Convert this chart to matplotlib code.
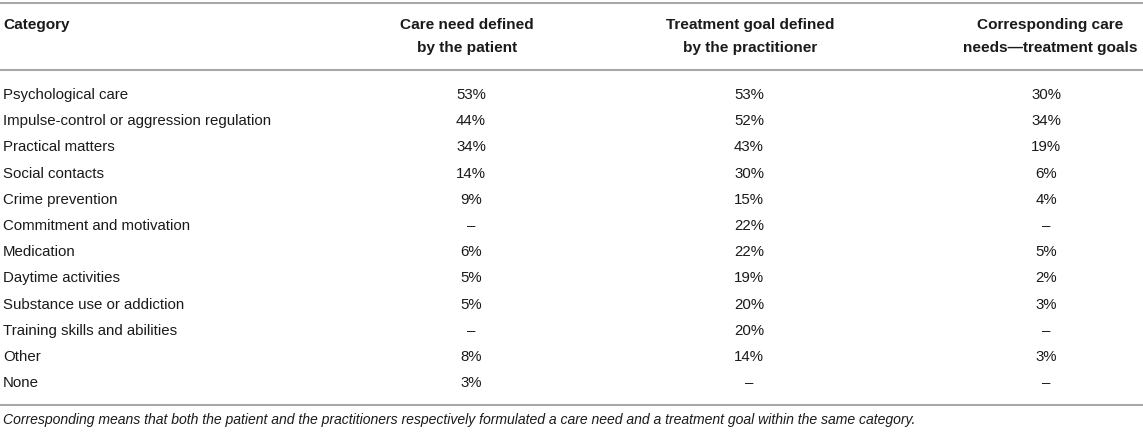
import matplotlib.pyplot as plt

plt.rcParams['font.family'] = ['Liberation Sans', 'DejaVu Sans']

headers = ['Category', 'Care need defined\nby the patient',
           'Treatment goal defined\nby the practitioner',
           'Corresponding care\nneeds\u2014treatment goals']
categories = ['Psychological care', 'Impulse-control or aggression regulation',
              'Practical matters', 'Social contacts', 'Crime prevention',
              'Commitment and motivation', 'Medication', 'Daytime activities',
              'Substance use or addiction', 'Training skills and abilities',
              'Other', 'None']
patient = ['53%', '44%', '34%', '14%', '9%', '\u2013', '6%', '5%', '5%', '\u2013', '8%', '3%']
practitioner = ['53%', '52%', '43%', '30%', '15%', '22%', '22%', '19%', '20%', '20%', '14%', '\u2013']
corresponding = ['30%', '34%', '19%', '6%', '4%', '\u2013', '5%', '2%', '3%', '\u2013', '3%', '\u2013']
note = ('Corresponding means that both the patient and the practitioners respectively '
        'formulated a care need and a treatment goal within the same category.')

W, H = 1143, 432
fig = plt.figure(figsize=(W / 100, H / 100), dpi=100)
ax = fig.add_axes([0, 0, 1, 1])
ax.set_xlim(0, W)
ax.set_ylim(H, 0)
ax.axis('off')

fs = 10.8
fs_head = 11.1
line_col = '#a8a8a8'
txt_col = '#1a1a1a'
head_x = [3, 467, 750, 1050]
data_x = [3, 471, 749, 1046]

# rules
for y in [3, 70, 405]:
    ax.plot([0, W], [y, y], color=line_col, lw=1.5, solid_capstyle='butt')

# header
ax.text(head_x[0], 25, headers[0], fontsize=fs_head, fontweight='bold', color=txt_col,
        ha='left', va='center')
for x, h in zip(head_x[1:], headers[1:]):
    top, bottom = h.split('\n')
    ax.text(x, 25, top, fontsize=fs_head, fontweight='bold', color=txt_col, ha='center', va='center')
    ax.text(x, 48, bottom, fontsize=fs_head, fontweight='bold', color=txt_col, ha='center', va='center')

# body
y0, dy = 95, 26.2
for i, cat in enumerate(categories):
    y = y0 + i * dy
    ax.text(data_x[0], y, cat, fontsize=fs, color=txt_col, ha='left', va='center')
    for x, col in zip(data_x[1:], [patient, practitioner, corresponding]):
        ax.text(x, y, col[i], fontsize=fs, color=txt_col, ha='center', va='center')

ax.text(data_x[0], 420, note, fontsize=10.1, style='italic', color=txt_col, ha='left', va='center')

fig.savefig('out.png', dpi=100)
